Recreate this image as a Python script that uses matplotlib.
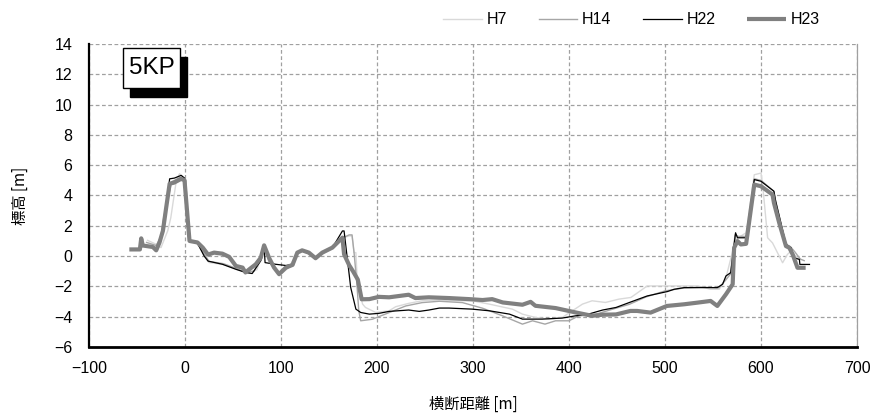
import matplotlib
matplotlib.use("Agg")
import matplotlib.pyplot as plt
from matplotlib.patches import Rectangle

# ---------------- data ----------------
h7_x = [-39, -30, -25, -18, -14.8, -9, -5.7, 0.8, 4.2, 13, 21.6, 25, 40, 55, 65, 75, 82, 88, 98, 108,
        117, 122, 136, 153.5, 164, 171, 174, 176, 178, 179.6, 185, 188, 198.7, 212.6, 219.5, 233, 247,
        265, 282, 299, 317, 341, 351.5, 365, 379, 393, 403.5, 414, 424, 438, 452, 464.5, 481.5, 499.5,
        534, 547.5, 556.5, 563.5, 573.5, 584.5, 593, 600, 601.7, 606.9, 612, 622.5, 627.5, 631.3, 638, 641.5]
h7_y = [1.04, 0.78, 0.56, 1.67, 2.53, 5.0, 5.44, 4.95, 1.0, 0.85, -0.1, -0.43, -0.55, -0.9, -1.1, -0.9, 0.7, -0.3, -1.3, -0.76,
        0.2, 0.35, -0.1, 0.5, 1.2, 1.33, 1.33, 0.23, 0.23, -1.85, -3.17, -3.39, -3.72, -3.61, -3.34, -3.12, -2.95,
        -2.9, -2.95, -2.95, -3.17, -3.5, -3.83, -4.05, -4.16, -4.05, -3.61, -3.17, -2.95, -3.06, -2.84, -2.73, -1.97, -1.97,
        -1.97, -2.19, -2.19, -1.43, 1.1, 1.54, 5.37, 5.48, 4.72, 1.21, 0.87, -0.44, 0.11, 0.33, -0.11, -0.22]

h14_x = [-40, -30, -25, -22, -18, -14, -5, 0.8, 4.2, 13, 21, 25, 40, 53, 63, 72, 80, 83, 87, 98, 106,
         113, 117, 122, 129, 136, 143, 153.5, 164, 171, 174, 176, 179, 181, 183, 195, 212.6, 230, 247,
         265, 289, 310, 331, 351.5, 362, 375, 386, 400, 410, 428, 445, 463, 480, 500, 520, 540, 556,
         563, 568, 573, 576, 585, 593, 600, 613, 615, 626, 631, 635, 641, 645]
h14_y = [0.9, 0.7, 1.3, 2.6, 3.7, 4.9, 5.2, 5.0, 1.0, 0.85, 0.05, -0.35, -0.5, -0.8, -1.05, -1.0, 0.0, 0.75, -0.3, -1.25, -0.8,
         -0.6, 0.2, 0.4, 0.25, -0.1, 0.25, 0.55, 1.2, 1.4, 1.4, 0.3, -1.8, -3.6, -4.27, -4.17, -3.73, -3.29, -3.07,
         -2.98, -3.07, -3.44, -3.95, -4.49, -4.27, -4.49, -4.27, -4.27, -3.95, -3.84, -3.51, -3.18, -2.7, -2.3, -2.1, -2.05, -2.1,
         -1.6, -1.2, 1.4, 1.3, 1.3, 5.1, 5.0, 4.3, 3.7, 0.8, 0.6, 0.3, -0.2, -0.3]

h22_x = [-46, -44, -34, -30, -26.6, -23, -19.6, -16, -11, -4, -0.5, 4.2, 13, 20, 24, 39, 53, 63, 70, 79,
         82.4, 83.4, 94.5, 105, 112, 117, 122, 129, 136, 143, 153.5, 164, 165.7, 172.6, 178, 183, 192, 202,
         212.6, 233, 244, 254, 265, 275, 299, 317, 338, 351.5, 372, 393, 407, 418, 435, 449, 463, 481.5,
         502.5, 509.5, 520, 534, 554.5, 560, 563.5, 568.5, 573.5, 575.5, 584.5, 593, 600, 613.5, 615.3,
         626, 631.3, 634.5, 640, 640.5, 650.5]
h22_y = [1.2, 0.65, 0.6, 0.4, 0.9, 1.7, 3.25, 5.1, 5.15, 5.33, 5.15, 1.0, 0.85, 0.0, -0.33, -0.54, -0.87, -1.08, -1.15, -0.3,
         0.7, -0.43, -0.54, -0.62, -0.55, 0.2, 0.35, 0.2, -0.15, 0.2, 0.55, 1.66, 1.66, -2.07, -3.5, -3.72, -3.83, -3.78,
         -3.65, -3.56, -3.65, -3.56, -3.43, -3.43, -3.5, -3.61, -3.83, -4.16, -4.16, -4.09, -3.94, -3.87, -3.56, -3.39, -3.06, -2.63,
         -2.34, -2.19, -2.08, -2.08, -2.08, -1.86, -1.31, -1.09, 1.54, 1.21, 1.21, 5.05, 4.94, 4.28, 3.62,
         0.77, 0.55, -0.11, -0.22, -0.55, -0.55]

h23_x = [-58, -47, -45.6, -44, -33.5, -30, -26.6, -23, -19.6, -16, -11.4, -4, -0.5, 4.7, 13, 18.5, 24,
         30.3, 39, 46, 53, 60, 63, 67, 73.7, 79, 82.4, 87.6, 92.8, 98, 105, 112, 117, 122, 129, 136, 143,
         153.5, 164, 165.7, 171, 175, 180, 184, 192, 202, 212.6, 233, 240, 254, 275, 296, 310, 320, 331,
         351.5, 360, 365, 386, 407, 424, 435, 449, 464, 471, 485, 502, 520, 534, 547.5, 554.5, 563.5,
         570.5, 572, 575.5, 579, 584.5, 593, 600, 612, 613.5, 619, 626, 629.5, 633, 638, 646.5]
h23_y = [0.44, 0.44, 1.17, 0.7, 0.6, 0.38, 0.89, 1.67, 3.2, 4.78, 4.85, 5.1, 5.0, 1.0, 0.9, 0.56, 0.1,
         0.23, 0.16, -0.05, -0.65, -0.76, -1.08, -0.87, -0.54, -0.1, 0.71, -0.12, -0.76, -1.19, -0.76, -0.58, 0.23, 0.38, 0.23, -0.14, 0.23,
         0.56, 1.22, 0.12, -0.6, -1.0, -1.55, -2.85, -2.84, -2.69, -2.72, -2.55, -2.77, -2.72, -2.77, -2.84, -2.9, -2.84, -3.06,
         -3.21, -3.02, -3.28, -3.43, -3.72, -3.94, -3.87, -3.85, -3.62, -3.62, -3.73, -3.29, -3.18, -3.07, -2.96, -3.29, -2.52,
         -1.86, 0.55, 0.99, 0.77, 0.81, 4.72, 4.61, 4.06, 3.51, 2.19, 0.66, 0.55, 0.11, -0.77, -0.77]

series_labels = ["H7", "H14", "H22", "H23"]
x_ticks = [-100, 0, 100, 200, 300, 400, 500, 600, 700]
y_ticks = [-6, -4, -2, 0, 2, 4, 6, 8, 10, 12, 14]
x_label = "横断距離 [m]"
y_label = "標高 [m]"
section_label = "5KP"

# ---------------- figure ----------------
W, H = 877, 416
fig = plt.figure(figsize=(W / 100, H / 100), dpi=100)
ax = fig.add_axes([89 / W, (H - 347) / H, (857 - 89) / W, (347 - 44) / H])

tick_font = ["Liberation Sans", "DejaVu Sans"]
cjk_font = ["Noto Sans CJK JP", "DejaVu Sans"]

ax.plot(h7_x, h7_y, color="#d9d9d9", lw=1.0, label=series_labels[0], zorder=3)
ax.plot(h14_x, h14_y, color="#a6a6a6", lw=1.0, label=series_labels[1], zorder=4)
ax.plot(h22_x, h22_y, color="#000000", lw=0.9, label=series_labels[2], zorder=5)
ax.plot(h23_x, h23_y, color="#808080", lw=3.0, label=series_labels[3], zorder=6,
        solid_joinstyle="round", solid_capstyle="butt")

ax.set_xlim(x_ticks[0], x_ticks[-1])
ax.set_ylim(y_ticks[0], y_ticks[-1])
ax.set_xticks(x_ticks)
ax.set_yticks(y_ticks)
ax.grid(True, color="#a0a0a0", linestyle=(0, (3, 2)), lw=0.9)
ax.set_axisbelow(True)
ax.tick_params(length=0, labelsize=11.5)
ax.tick_params(axis="y", pad=12)
ax.tick_params(axis="x", pad=10)
for lbl in ax.get_xticklabels() + ax.get_yticklabels():
    lbl.set_family(tick_font)

ax.spines["left"].set_linewidth(1.6)
ax.spines["left"].set_color("black")
ax.spines["bottom"].set_linewidth(2.0)
ax.spines["bottom"].set_color("black")
ax.spines["top"].set_visible(False)
ax.spines["right"].set_color("#a0a0a0")
ax.spines["right"].set_linewidth(0.9)

ax.set_xlabel(x_label, family=cjk_font, fontsize=11, labelpad=14)
ax.set_ylabel(y_label, family=cjk_font, fontsize=11, labelpad=18)

# section label box with shadow
bx0, bx1, by0, by1 = 123, 180, 48, 88
shadow = Rectangle(((bx0 + 6.5) / W, (H - by1 - 8.5) / H), (bx1 - bx0) / W, (by1 - by0) / H,
                   transform=fig.transFigure, facecolor="black", edgecolor="black", zorder=10)
box = Rectangle((bx0 / W, (H - by1) / H), (bx1 - bx0) / W, (by1 - by0) / H,
                transform=fig.transFigure, facecolor="white", edgecolor="black", lw=1.0, zorder=11)
fig.patches.extend([shadow, box])
fig.text((bx0 + bx1) / 2 / W, (H - (by0 + by1) / 2) / H, section_label, ha="center", va="center",
         fontsize=17.5, family=tick_font, zorder=12)

leg = fig.legend(loc="center right", bbox_to_anchor=(826 / W, (H - 20) / H), ncol=4, frameon=False,
                 handlelength=2.4, handletextpad=0.3, columnspacing=2.0, borderaxespad=0,
                 prop={"family": tick_font, "size": 11.5})

fig.savefig("out.png", dpi=100)
